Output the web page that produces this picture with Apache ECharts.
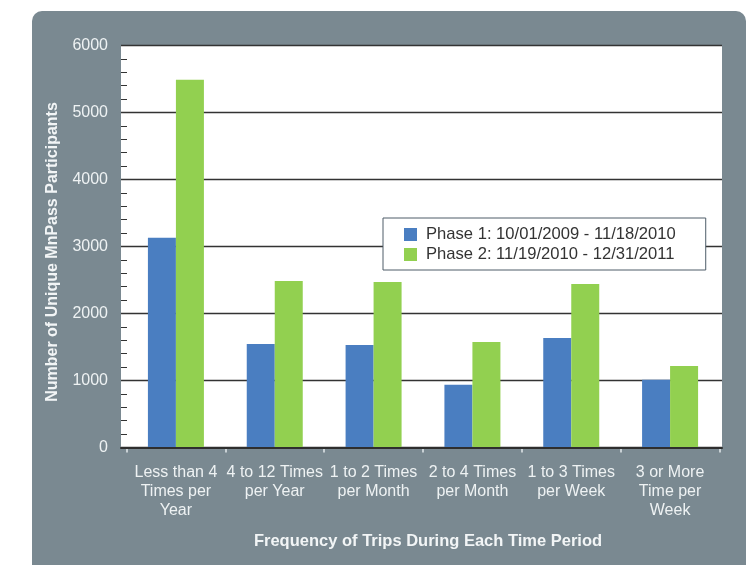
<!DOCTYPE html>
<html>
<head>
<meta charset="utf-8">
<script src="https://cdn.jsdelivr.net/npm/echarts@6/dist/echarts.min.js"></script>
<style>
html,body{margin:0;padding:0;background:#ffffff;}
#chart{width:754px;height:565px;}
</style>
</head>
<body>
<div id="chart"></div>
<script>
var categories = [
  "Less than 4\nTimes per\nYear",
  "4 to 12 Times\nper Year",
  "1 to 2 Times\nper Month",
  "2 to 4 Times\nper Month",
  "1 to 3 Times\nper Week",
  "3 or More\nTime per\nWeek"
];
var seriesNames = [
  "Phase 1: 10/01/2009 - 11/18/2010",
  "Phase 2: 11/19/2010 - 12/31/2011"
];
var phase1 = [3130, 1545, 1530, 935, 1635, 1010];
var phase2 = [5490, 2485, 2470, 1575, 2440, 1215];
var yTicks = [0, 1000, 2000, 3000, 4000, 5000, 6000];
var yTitle = "Number of Unique MnPass Participants";
var xTitle = "Frequency of Trips During Each Time Period";

var FONT = "Liberation Sans";
var chart = echarts.init(document.getElementById('chart'), null, {renderer: 'canvas'});
var option = {
  animation: false,
  textStyle: {fontFamily: FONT},
  graphic: [
    {type: 'rect', z: -10, silent: true,
     shape: {x: 32, y: 11, width: 714, height: 620, r: 10},
     style: {fill: '#7a8991'}},
    {type: 'text', z: 10, silent: true,
     x: 53, y: 252, rotation: Math.PI / 2,
     style: {text: yTitle, fill: '#f2f5f6', font: 'bold 16px "' + FONT + '"',
             align: 'center', verticalAlign: 'middle'}},
    {type: 'text', z: 10, silent: true,
     x: 428, y: 541,
     style: {text: xTitle, fill: '#f2f5f6', font: 'bold 16.5px "' + FONT + '"',
             align: 'center', verticalAlign: 'middle'}}
  ],
  legend: {
    orient: 'vertical',
    left: 383, top: 218,
    padding: [8, 30, 7, 21],
    itemWidth: 13, itemHeight: 13, itemGap: 3,
    icon: 'rect',
    backgroundColor: '#ffffff',
    borderColor: '#4e5d68', borderWidth: 1,
    textStyle: {fontSize: 16.6, color: '#333333', fontFamily: FONT, lineHeight: 16, padding: [0, 0, 0, 4]},
    data: seriesNames
  },
  grid: [
    {left: 121, top: 45.5, width: 601, height: 402, show: true, backgroundColor: '#ffffff', borderWidth: 0},
    {left: 126.5, top: 45.5, width: 593, height: 402}
  ],
  xAxis: [
    {type: 'category', gridIndex: 0, data: categories, z: 10,
     axisLine: {show: true, lineStyle: {color: '#2e2e2e', width: 2}},
     axisTick: {show: false}, axisLabel: {show: false}, splitLine: {show: false}},
    {type: 'category', gridIndex: 1, data: categories,
     axisLine: {show: false},
     axisTick: {show: true, length: 5, interval: 0, lineStyle: {color: '#e4e9eb', width: 1.5}},
     axisLabel: {interval: 0, color: '#eef2f3', fontSize: 16, lineHeight: 19, margin: 16, fontFamily: FONT},
     splitLine: {show: false}}
  ],
  yAxis: [
    {type: 'value', gridIndex: 0, min: yTicks[0], max: yTicks[yTicks.length - 1], interval: 1000,
     axisLine: {show: false},
     axisTick: {show: true, inside: true, length: 6, lineStyle: {color: '#333333'}},
     minorTick: {show: true, splitNumber: 5, length: 6, lineStyle: {color: '#333333', width: 1}},
     axisLabel: {color: '#eef2f3', fontSize: 16, margin: 13, fontFamily: FONT,
                 formatter: function (v) { return String(v); }},
     splitLine: {show: true, lineStyle: {color: '#333333', width: 1.4}}},
    {type: 'value', gridIndex: 1, min: yTicks[0], max: yTicks[yTicks.length - 1], interval: 1000, show: false,
     splitLine: {show: false}}
  ],
  series: [
    {name: seriesNames[0], type: 'bar', xAxisIndex: 1, yAxisIndex: 1, data: phase1,
     barWidth: 28, barGap: '0%', itemStyle: {color: '#4a7ec1'}},
    {name: seriesNames[1], type: 'bar', xAxisIndex: 1, yAxisIndex: 1, data: phase2,
     barWidth: 28, barGap: '0%', itemStyle: {color: '#92d050'}}
  ]
};
chart.setOption(option);
</script>
</body>
</html>
